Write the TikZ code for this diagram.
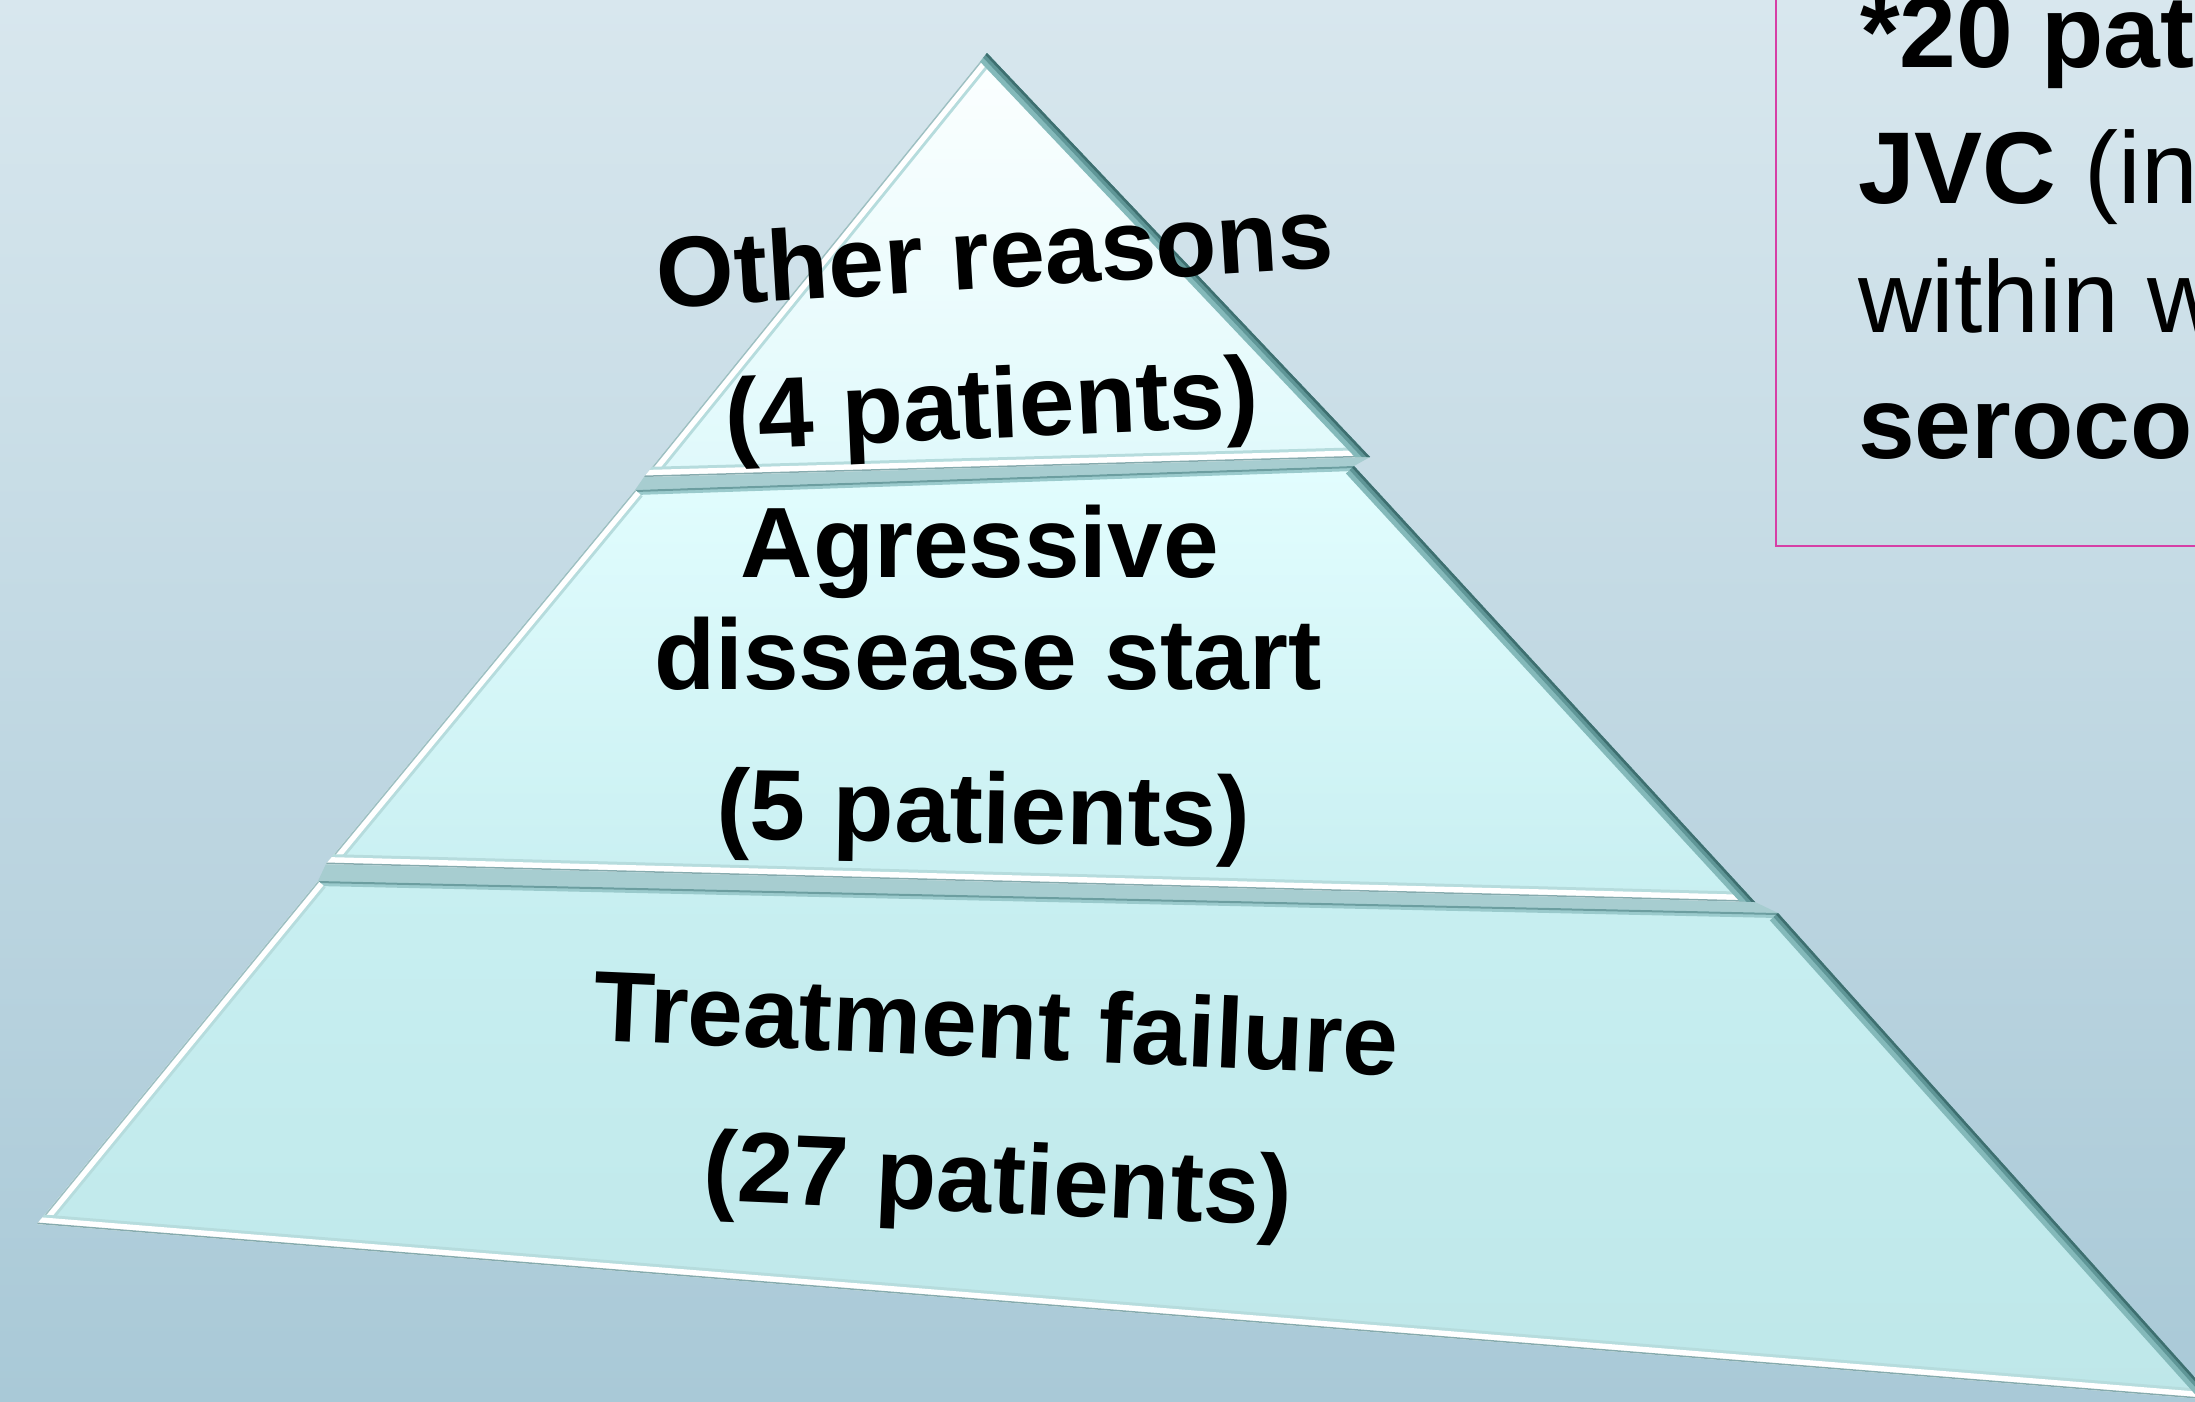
\documentclass[tikz,border=0pt]{standalone}
\usepackage{fontspec}
\setmainfont{Liberation Sans}
\definecolor{bgtop}{HTML}{D8E7EE}
\definecolor{bgbot}{HTML}{A9C9D7}
\definecolor{toptop}{HTML}{FCFFFF}
\definecolor{topbot}{HTML}{DFF9FB}
\definecolor{midtop}{HTML}{E2FDFE}
\definecolor{midbot}{HTML}{C8EFF1}
\definecolor{bottop}{HTML}{C8EFF1}
\definecolor{botbot}{HTML}{BEE7E9}
\definecolor{gapcol}{HTML}{A7CDD0}
\definecolor{rbevel}{HTML}{84B9BA}
\definecolor{rmid}{HTML}{5F9697}
\definecolor{rdark}{HTML}{3E6F70}
\definecolor{lgray}{HTML}{9DBFC2}
\definecolor{linner}{HTML}{B6DCDD}
\definecolor{bgray}{HTML}{86ABAE}
\definecolor{tline}{HTML}{9ACACC}
\definecolor{tdark}{HTML}{6C9EA0}
\definecolor{boxpink}{HTML}{D63FA6}
\begin{document}
\begin{tikzpicture}[x=1pt,y=-1pt,
  lbl/.style={font=\fontsize{100}{110}\selectfont\bfseries, text=black, anchor=base, inner sep=0pt},
  boxtxt/.style={font=\fontsize{102}{110}\selectfont, text=black, anchor=base west, inner sep=0pt},
  rwide/.style={line width=22pt, draw=rbevel},
  rmidl/.style={line width=12pt, draw=rmid},
  rthin/.style={line width=5pt, draw=rdark},
  linn/.style={line width=20pt, draw=linner},
  lwide/.style={line width=14pt, draw=white},
  lthin/.style={line width=3pt, draw=lgray},
  binn/.style={line width=20pt, draw=linner},
  bwide/.style={line width=14pt, draw=white},
  bthin/.style={line width=3pt, draw=bgray},
  twide/.style={line width=10pt, draw=tline},
  tthin/.style={line width=4pt, draw=tdark}]
\useasboundingbox (0,0) rectangle (2195,1401);
\clip (0,0) rectangle (2195,1401);
\shade[top color=bgtop, bottom color=bgbot] (0,0) rectangle (2195,1401);

% corner coordinates
\coordinate (T0) at (987,53);
\coordinate (T1) at (644,477);
\coordinate (T2) at (1370,457);
\coordinate (M1) at (635,490);
\coordinate (M2) at (1354,466);
\coordinate (M3) at (1755,902);
\coordinate (M4) at (326,864);
\coordinate (B1) at (318,881);
\coordinate (B2) at (1778,913);
\coordinate (B3) at (2215,1400);
\coordinate (B4) at (37,1224);

% gaps between the sections
\fill[gapcol] (644,477) -- (1370,457) -- (1354,466) -- (635,490) -- cycle;
\fill[gapcol] (326,864) -- (1755,902) -- (1778,913) -- (318,881) -- cycle;

% top section
\begin{scope}
  \clip (T0)--(T1)--(T2)--cycle;
  \shade[top color=toptop, bottom color=topbot] (T0)--(T1)--(T2)--cycle;
  \draw[linn] (T0)--(T1);
  \draw[lwide] (T0)--(T1);
  \draw[lthin] (T0)--(T1);
  \draw[binn] (T1)--(T2);
  \draw[bwide] (T1)--(T2);
  \draw[bthin] (T1)--(T2);
  \draw[rwide] (T0)--(T2);
  \draw[rmidl] (T0)--(T2);
  \draw[rthin] (T0)--(T2);
\end{scope}

% middle section
\begin{scope}
  \clip (M1)--(M2)--(M3)--(M4)--cycle;
  \shade[top color=midtop, bottom color=midbot] (M1)--(M2)--(M3)--(M4)--cycle;
  \draw[twide] (M1)--(M2);
  \draw[tthin] (M1)--(M2);
  \draw[linn] (M1)--(M4);
  \draw[lwide] (M1)--(M4);
  \draw[lthin] (M1)--(M4);
  \draw[binn] (M4)--(M3);
  \draw[bwide] (M4)--(M3);
  \draw[bthin] (M4)--(M3);
  \draw[rwide] (M2)--(M3);
  \draw[rmidl] (M2)--(M3);
  \draw[rthin] (M2)--(M3);
\end{scope}

% bottom section
\begin{scope}
  \clip (B1)--(B2)--(B3)--(B4)--cycle;
  \shade[top color=bottop, bottom color=botbot] (B1)--(B2)--(B3)--(B4)--cycle;
  \draw[twide] (B1)--(B2);
  \draw[tthin] (B1)--(B2);
  \draw[linn] (B1)--(B4);
  \draw[lwide] (B1)--(B4);
  \draw[lthin] (B1)--(B4);
  \draw[binn] (B4)--(B3);
  \draw[bwide] (B4)--(B3);
  \draw[bthin] (B4)--(B3);
  \draw[rwide] (B2)--(B3);
  \draw[rmidl] (B2)--(B3);
  \draw[rthin] (B2)--(B3);
\end{scope}

% pyramid labels
\node[lbl, rotate=3.5] (o1) at (997,288) {Other reasons};
\node[lbl, rotate=2.5] (o2) at (993,438) {(4 patients)};
\node[lbl] (a1) at (980,577) {Agressive};
\node[lbl] (a2) at (988,689) {dissease start};
\node[lbl, rotate=-0.8] (a3) at (983,843) {(5 patients)};
\node[lbl, rotate=-2.5] (t1) at (995,1058) {Treatment failure};
\node[lbl, rotate=-2.5] (t2) at (997,1213) {(27 patients)};

% note box
\draw[draw=boxpink, line width=2.5pt] (1776,-10) rectangle (2230,546);
\node[boxtxt] (n1) at (1860,67) {\textbf{*20 pat}};
\node[boxtxt] (n2) at (1858,203) {\textbf{JVC} (in};
\node[boxtxt] (n3) at (1858,332) {within w};
\node[boxtxt] (n4) at (1858,458) {\textbf{seroco}};
\end{tikzpicture}
\end{document}
